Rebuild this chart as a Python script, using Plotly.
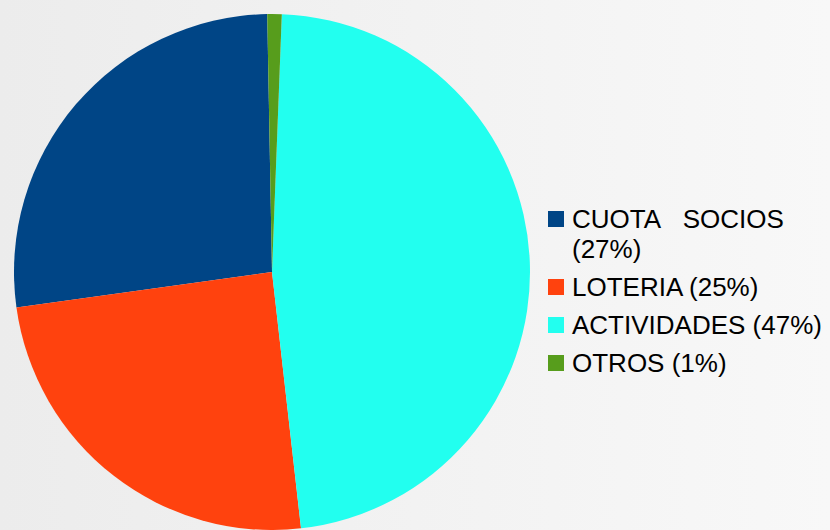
import plotly.graph_objects as go

categories = ["CUOTA SOCIOS", "LOTERIA", "ACTIVIDADES", "OTROS"]
values = [26.9, 24.6, 47.6, 0.9]
legend_labels = ["CUOTA\u00a0\u00a0\u00a0SOCIOS<br>(27%)", "LOTERIA (25%)", "ACTIVIDADES (47%)", "OTROS (1%)"]
colors = ["#004586", "#ff420e", "#22ffef", "#579d1c"]

W, H = 830, 530
FONT = "Liberation Sans, Arial, sans-serif"
FS = 26


def px_x(p):
    return p / W


def px_y(p):
    return 1 - p / H


fig = go.Figure()

# subtle background gradient
fig.add_trace(go.Scatter(
    x=[0, 1, 1, 0, 0], y=[0, 0, 1, 1, 0], mode="lines", fill="toself",
    fillgradient=dict(type="horizontal", colorscale=[[0, "#ececec"], [1, "#f8f8f8"]]),
    line=dict(width=0), hoverinfo="skip", showlegend=False,
))

fig.add_trace(go.Pie(
    labels=categories, values=values, sort=False, direction="counterclockwise",
    rotation=-97.9, marker=dict(colors=colors, line=dict(width=0)),
    textinfo="none", hoverinfo="label+percent", showlegend=False,
    domain=dict(x=[px_x(12), px_x(532)], y=[0, px_y(14)]),
))

# manual legend (squares + text), laid out top to bottom
shapes = []
annotations = []
baseline = 228
line_step = 30
item_gap = 8
for lab, col in zip(legend_labels, colors):
    lines = lab.split("<br>")
    shapes.append(dict(
        type="rect", xref="paper", yref="paper",
        x0=px_x(548), x1=px_x(564), y0=px_y(baseline - 1), y1=px_y(baseline - 17),
        fillcolor=col, line=dict(width=0), layer="above",
    ))
    for k, ln in enumerate(lines):
        b = baseline + k * line_step
        annotations.append(dict(
            x=px_x(570), y=px_y(b - 8.9), xref="paper", yref="paper",
            xanchor="left", yanchor="middle", text=ln, showarrow=False,
            font=dict(family=FONT, size=FS, color="#000000"), align="left",
        ))
    baseline += len(lines) * line_step + item_gap

fig.update_layout(
    width=W, height=H,
    margin=dict(l=0, r=0, t=0, b=0),
    paper_bgcolor="#f2f2f2", plot_bgcolor="rgba(0,0,0,0)",
    xaxis=dict(visible=False, range=[0, 1], fixedrange=True),
    yaxis=dict(visible=False, range=[0, 1], fixedrange=True),
    font=dict(family=FONT, size=FS, color="#000000"),
    showlegend=False,
    shapes=shapes,
    annotations=annotations,
)

fig.write_html("out.html", config={"displayModeBar": False},
               post_script="document.body.style.margin='0';")
